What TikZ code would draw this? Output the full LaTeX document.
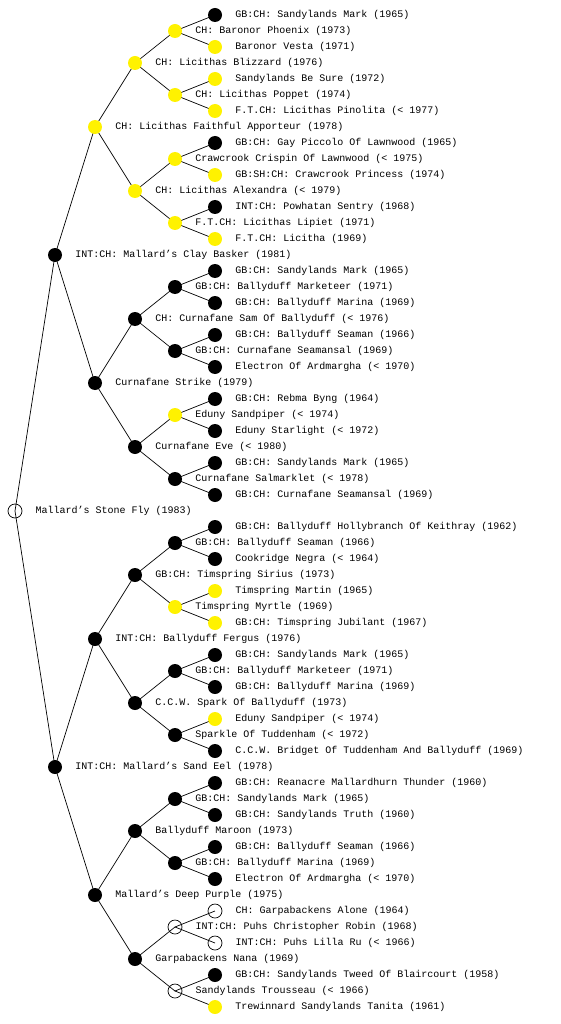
\documentclass[tikz,border=0pt]{standalone}
\usepackage{fontspec}
\newfontfamily\pedfont{Liberation Mono}
\usetikzlibrary{positioning,backgrounds}

% row/level/parent/style/name, one row every 16pt, one level every 40pt
\def\pedigree{%
0/5/1/blk/{GB:CH: Sandylands Mark (1965)},
1/4/3/ylw/{CH: Baronor Phoenix (1973)},
2/5/1/ylw/{Baronor Vesta (1971)},
3/3/7/ylw/{CH: Licithas Blizzard (1976)},
4/5/5/ylw/{Sandylands Be Sure (1972)},
5/4/3/ylw/{CH: Licithas Poppet (1974)},
6/5/5/ylw/{F.T.CH: Licithas Pinolita (< 1977)},
7/2/15/ylw/{CH: Licithas Faithful Apporteur (1978)},
8/5/9/blk/{GB:CH: Gay Piccolo Of Lawnwood (1965)},
9/4/11/ylw/{Crawcrook Crispin Of Lawnwood (< 1975)},
10/5/9/ylw/{GB:SH:CH: Crawcrook Princess (1974)},
11/3/7/ylw/{CH: Licithas Alexandra (< 1979)},
12/5/13/blk/{INT:CH: Powhatan Sentry (1968)},
13/4/11/ylw/{F.T.CH: Licithas Lipiet (1971)},
14/5/13/ylw/{F.T.CH: Licitha (1969)},
15/1/31/blk/{INT:CH: Mallard’s Clay Basker (1981)},
16/5/17/blk/{GB:CH: Sandylands Mark (1965)},
17/4/19/blk/{GB:CH: Ballyduff Marketeer (1971)},
18/5/17/blk/{GB:CH: Ballyduff Marina (1969)},
19/3/23/blk/{CH: Curnafane Sam Of Ballyduff (< 1976)},
20/5/21/blk/{GB:CH: Ballyduff Seaman (1966)},
21/4/19/blk/{GB:CH: Curnafane Seamansal (1969)},
22/5/21/blk/{Electron Of Ardmargha (< 1970)},
23/2/15/blk/{Curnafane Strike (1979)},
24/5/25/blk/{GB:CH: Rebma Byng (1964)},
25/4/27/ylw/{Eduny Sandpiper (< 1974)},
26/5/25/blk/{Eduny Starlight (< 1972)},
27/3/23/blk/{Curnafane Eve (< 1980)},
28/5/29/blk/{GB:CH: Sandylands Mark (1965)},
29/4/27/blk/{Curnafane Salmarklet (< 1978)},
30/5/29/blk/{GB:CH: Curnafane Seamansal (1969)},
31/0/31/wht/{Mallard’s Stone Fly (1983)},
32/5/33/blk/{GB:CH: Ballyduff Hollybranch Of Keithray (1962)},
33/4/35/blk/{GB:CH: Ballyduff Seaman (1966)},
34/5/33/blk/{Cookridge Negra (< 1964)},
35/3/39/blk/{GB:CH: Timspring Sirius (1973)},
36/5/37/ylw/{Timspring Martin (1965)},
37/4/35/ylw/{Timspring Myrtle (1969)},
38/5/37/ylw/{GB:CH: Timspring Jubilant (1967)},
39/2/47/blk/{INT:CH: Ballyduff Fergus (1976)},
40/5/41/blk/{GB:CH: Sandylands Mark (1965)},
41/4/43/blk/{GB:CH: Ballyduff Marketeer (1971)},
42/5/41/blk/{GB:CH: Ballyduff Marina (1969)},
43/3/39/blk/{C.C.W. Spark Of Ballyduff (1973)},
44/5/45/ylw/{Eduny Sandpiper (< 1974)},
45/4/43/blk/{Sparkle Of Tuddenham (< 1972)},
46/5/45/blk/{C.C.W. Bridget Of Tuddenham And Ballyduff (1969)},
47/1/31/blk/{INT:CH: Mallard’s Sand Eel (1978)},
48/5/49/blk/{GB:CH: Reanacre Mallardhurn Thunder (1960)},
49/4/51/blk/{GB:CH: Sandylands Mark (1965)},
50/5/49/blk/{GB:CH: Sandylands Truth (1960)},
51/3/55/blk/{Ballyduff Maroon (1973)},
52/5/53/blk/{GB:CH: Ballyduff Seaman (1966)},
53/4/51/blk/{GB:CH: Ballyduff Marina (1969)},
54/5/53/blk/{Electron Of Ardmargha (< 1970)},
55/2/47/blk/{Mallard’s Deep Purple (1975)},
56/5/57/wht/{CH: Garpabackens Alone (1964)},
57/4/59/wht/{INT:CH: Puhs Christopher Robin (1968)},
58/5/57/wht/{INT:CH: Puhs Lilla Ru (< 1966)},
59/3/55/blk/{Garpabackens Nana (1969)},
60/5/61/blk/{GB:CH: Sandylands Tweed Of Blaircourt (1958)},
61/4/59/wht/{Sandylands Trousseau (< 1966)},
62/5/61/ylw/{Trewinnard Sandylands Tanita (1961)}}

\begin{document}
\begin{tikzpicture}[x=1pt,y=-1pt,
  dog/.style={circle,minimum size=14pt,inner sep=0pt},
  blk/.style={dog,fill=black},
  ylw/.style={dog,fill=yellow},
  wht/.style={dog,draw=black,line width=0.7pt},
  lbl/.style={inner sep=0pt,font=\pedfont\fontsize{10}{12}\selectfont},
  link/.style={line width=0.7pt}]
\useasboundingbox (0,0) rectangle (560,1024);
\foreach \r/\lv/\p/\c/\t in \pedigree {
  \node[\c] (n\r) at (15+40*\lv,15+16*\r) {};
  \node[lbl,right=13pt of n\r] (l\r) {\t};
}
\begin{scope}[on background layer]
\foreach \r/\lv/\p/\c/\t in \pedigree {
  \ifnum\p=\r\else
    \draw[link] (n\p.center) -- (n\r.center);
  \fi
}
\end{scope}
\end{tikzpicture}
\end{document}
